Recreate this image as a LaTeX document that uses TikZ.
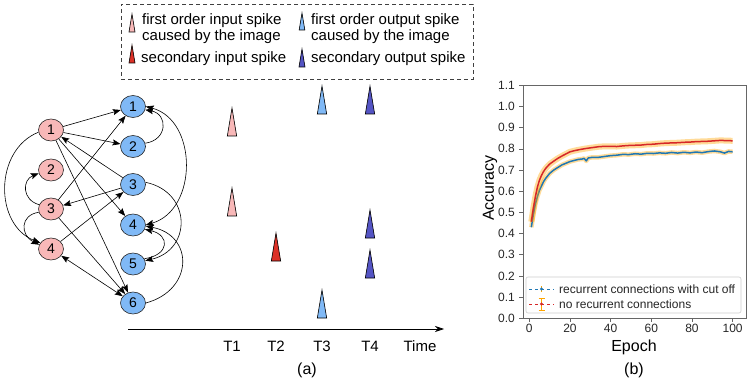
\documentclass[tikz,border=0pt]{standalone}
\usepackage{fontspec}
\setmainfont{Liberation Sans}
\usepackage{tikz}
\usetikzlibrary{arrows.meta,shapes.geometric}
\definecolor{inpink}{HTML}{F8B8B8}
\definecolor{outblue}{HTML}{80B9F6}
\definecolor{secred}{HTML}{DC3127}
\definecolor{secblue}{HTML}{5454C4}
\definecolor{mplblue}{HTML}{1F77B4}
\definecolor{mplred}{HTML}{D62728}
\definecolor{mplorange}{HTML}{FFA500}
% spike: x, base y, height, fill
\newcommand{\spike}[4]{\draw[line width=.6pt,fill=#4] (#1-#3/6,#2) -- (#1,#2-#3) -- (#1+#3/6,#2) -- cycle;}

\begin{document}
\begin{tikzpicture}[x=1pt,y=-1pt,>={Stealth[length=8pt,width=6pt,inset=1.5pt]},
  neuron/.style={ellipse,draw=black!85,line width=.6pt,minimum width=25pt,
                 minimum height=22pt,inner sep=0pt,font=\fontsize{14}{14}\selectfont},
  inp/.style={neuron,fill=inpink},
  outp/.style={neuron,fill=outblue},
  syn/.style={->,line width=.6pt},
  lbl/.style={font=\fontsize{15}{16}\selectfont},
  captext/.style={font=\fontsize{16}{16}\selectfont},
  legtext/.style={lbl,align=left,anchor=west,inner sep=0pt},
  tick/.style={font=\fontsize{12}{12}\selectfont,text=black!85,inner sep=0pt},
  band/.style={mplorange,opacity=.4,line join=round},
  curve/.style={line width=1.5pt,line join=round}]
  \useasboundingbox (0,0) rectangle (752,382);

  % network
  \node[inp] (i1) at (51,130) {1};
  \node[inp] (i2) at (51,170) {2};
  \node[inp] (i3) at (51,209) {3};
  \node[inp] (i4) at (51,249) {4};
  \node[outp] (o1) at (133,106.5) {1};
  \node[outp] (o2) at (133,146.5) {2};
  \node[outp] (o3) at (133,184.5) {3};
  \node[outp] (o4) at (133,225) {4};
  \node[outp] (o5) at (133,264) {5};
  \node[outp] (o6) at (133,303) {6};

  \draw[syn] (i1) -- (o1);
  \draw[syn] (i1) -- (o2);
  \draw[syn] (i1) -- (o4);
  \draw[syn] (i1) -- (o6);
  \draw[syn] (o3) -- (i1);
  \draw[syn] (i3) -- (o1);
  \draw[syn] (o3) -- (i3);
  \draw[syn] (i4) -- (o3);
  \draw[syn] (i3) -- (o6);
  \draw[syn,<->] (i4) -- (o6);
  \draw[syn] (i3.160) .. controls (22,200) and (22,180) .. (i2.195);
  \draw[syn] (i3.195) .. controls (20,215) and (20,235) .. (i4.160);
  \draw[syn] (i1.190) .. controls (-6,150) and (-6,225) .. (i4.150);
  \draw[syn] (o2.15) .. controls (168,140) and (168,114) .. (o1.-15);
  \draw[syn,<->] (o1.east) .. controls (198,120) and (198,210) .. (o4.east);
  \draw[syn] (o3.10) .. controls (192,192) and (192,250) .. (o5.15);
  \draw[syn] (o5.25) .. controls (170,255) and (170,235) .. (o4.-20);
  \draw[syn] (o6.east) .. controls (194,290) and (194,235) .. (o4.-5);

  % spikes
  \spike{232}{136}{28}{inpink}
  \spike{232}{216}{28}{inpink}
  \spike{276}{261}{28}{secred}
  \spike{322}{114}{28}{outblue}
  \spike{322}{318}{28}{outblue}
  \spike{370}{114}{28}{secblue}
  \spike{370}{238}{28}{secblue}
  \spike{370}{278}{28}{secblue}

  \coordinate (t0) at (128,329);
  \coordinate (tend) at (444,329);
  \draw[-{Stealth[length=9pt,width=6pt]},line width=.7pt] (t0) -- (tend);
  \foreach \t/\x in {1/232,2/276,3/322,4/370}
    \node[lbl] (T\t) at (\x,346) {T\t};
  \node[lbl] (time) at (420,346) {Time};
  \node[captext] (capa) at (307,370) {(a)};

  % legend
  \node[draw=black!75,dash pattern=on 4pt off 3pt,line width=.7pt,
        minimum width=352pt,minimum height=75pt] (legbox) at (297,41.5) {};
  \spike{132}{32}{18}{inpink}
  \spike{132}{63}{18}{secred}
  \spike{302}{30}{17}{outblue}
  \spike{302}{67}{18}{secblue}
  \node[legtext] (lg1) at (142,29) {first order input spike\\caused by the image};
  \node[legtext] (lg2) at (141,59) {secondary input spike};
  \node[legtext] (lg3) at (311,29) {first order output spike\\caused by the image};
  \node[legtext] (lg4) at (311,59) {secondary output spike};

  % accuracy plot
  \begin{scope}[shift={(529.3,318.3)},x=2.033pt,y=211.8pt]
    \draw[band,line width=4.5pt] plot coordinates {(1,.43) (2,.49) (3,.54) (4,.575)
      (5,.605) (6,.625) (7,.645) (8,.66) (9,.672) (10,.684) (12,.70) (14,.712)
      (16,.724) (18,.732) (20,.74) (22,.745) (24,.75) (26,.752) (27,.755) (28,.743)
      (29,.757) (31,.760) (34,.760) (37,.764) (40,.768) (43,.770) (46,.774) (49,.773)
      (52,.777) (55,.775) (58,.779) (61,.778) (64,.781) (67,.779) (70,.783) (73,.780)
      (76,.784) (79,.781) (82,.785) (85,.782) (88,.787) (91,.790) (94,.786) (96,.780)
      (98,.788) (100,.786)};
    \draw[curve,mplblue] plot coordinates {(1,.43) (2,.49) (3,.54) (4,.575)
      (5,.605) (6,.625) (7,.645) (8,.66) (9,.672) (10,.684) (12,.70) (14,.712)
      (16,.724) (18,.732) (20,.74) (22,.745) (24,.75) (26,.752) (27,.755) (28,.743)
      (29,.757) (31,.760) (34,.760) (37,.764) (40,.768) (43,.770) (46,.774) (49,.773)
      (52,.777) (55,.775) (58,.779) (61,.778) (64,.781) (67,.779) (70,.783) (73,.780)
      (76,.784) (79,.781) (82,.785) (85,.782) (88,.787) (91,.790) (94,.786) (96,.780)
      (98,.788) (100,.786)};
    \draw[band,line width=6pt] plot coordinates {(1,.456) (2,.52) (3,.575) (4,.62)
      (5,.652) (6,.675) (7,.693) (8,.707) (9,.718) (10,.728) (12,.742) (14,.755)
      (16,.766) (18,.776) (20,.786) (22,.791) (25,.797) (28,.802) (31,.806) (34,.810)
      (37,.812) (40,.812) (43,.811) (46,.814) (49,.816) (52,.817) (55,.818) (58,.821)
      (61,.822) (64,.825) (67,.827) (70,.828) (73,.829) (76,.831) (79,.832) (82,.834)
      (85,.835) (88,.836) (91,.838) (94,.840) (97,.839) (100,.838)};
    \draw[curve,mplred] plot coordinates {(1,.456) (2,.52) (3,.575) (4,.62)
      (5,.652) (6,.675) (7,.693) (8,.707) (9,.718) (10,.728) (12,.742) (14,.755)
      (16,.766) (18,.776) (20,.786) (22,.791) (25,.797) (28,.802) (31,.806) (34,.810)
      (37,.812) (40,.812) (43,.811) (46,.814) (49,.816) (52,.817) (55,.818) (58,.821)
      (61,.822) (64,.825) (67,.827) (70,.828) (73,.829) (76,.831) (79,.832) (82,.834)
      (85,.835) (88,.836) (91,.838) (94,.840) (97,.839) (100,.838)};
    \draw[black!60,line width=.6pt] (-3.1,0) rectangle (106.6,1.1);
    \foreach \v [count=\i] in {0.0,0.1,0.2,0.3,0.4,0.5,0.6,0.7,0.8,0.9,1.0,1.1} {
      \draw[black!60,line width=.6pt] (-3.1,\v) -- ++(-4pt,0);
      \node[tick,anchor=east,xshift=-8pt] (ytick\i) at (-3.1,\v) {\v};
    }
    \foreach \e in {0,20,...,100} {
      \draw[black!60,line width=.6pt] (\e,0) -- ++(0,-4pt);
      \node[tick,anchor=north,yshift=-6pt] (xtick\e) at (\e,0) {\e};
    }
  \end{scope}
  \node[captext,rotate=90] (acc) at (490,188) {Accuracy};
  \node[captext] (epoch) at (634,347) {Epoch};
  \node[captext] (capb) at (634,370) {(b)};

  \node[draw=black!20,rounded corners=2pt,fill=white,line width=.6pt,
        minimum width=215pt,minimum height=36pt] (pleg) at (633.5,295) {};
  \draw[mplorange,line width=.7pt] (541.5,286) -- (541.5,292);
  \draw[mplblue,dashed,line width=.8pt] (529,289) -- (554,289);
  \fill[mplblue] (541.5,289) circle (1.6pt);
  \draw[mplorange,line width=.7pt] (538.5,298) -- (544.5,298) (541.5,298) -- (541.5,310)
    (538.5,310) -- (544.5,310);
  \draw[mplred,dashed,line width=.8pt] (529,304) -- (554,304);
  \fill[mplred] (541.5,304) circle (1.6pt);
  \node[tick,anchor=west] (lgb) at (559,289) {recurrent connections with cut off};
  \node[tick,anchor=west] (lgr) at (559,304) {no recurrent connections};
\end{tikzpicture}
\end{document}
